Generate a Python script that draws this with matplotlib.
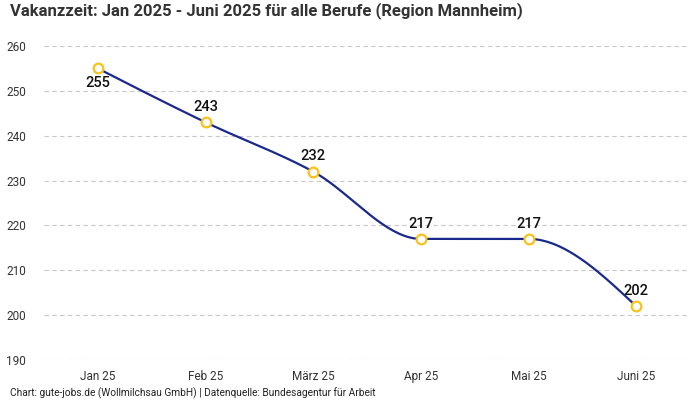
import numpy as np
import matplotlib
matplotlib.use("Agg")
import matplotlib.pyplot as plt

plt.rcParams['font.family'] = ['Roboto', 'DejaVu Sans']

months = ["Jan 25", "Feb 25", "März 25", "Apr 25", "Mai 25", "Juni 25"]
vakanz = [255, 243, 232, 217, 217, 202]
yticks = [190, 200, 210, 220, 230, 240, 250, 260]

LINE = "#1a2a8c"
MARK = "#f7c21b"


def monotone_curve(x, y, n=40):
    # monotone cubic (like d3 curveMonotoneX) for the smooth path
    x = np.asarray(x, float)
    y = np.asarray(y, float)
    h = np.diff(x)
    s = np.diff(y) / h
    m = np.zeros(len(x))
    for i in range(1, len(x) - 1):
        if s[i - 1] * s[i] <= 0:
            m[i] = 0
        else:
            m[i] = (np.sign(s[i - 1]) + np.sign(s[i])) * min(abs(s[i - 1]), abs(s[i]),
                                                             0.5 * abs((h[i - 1] * s[i] + h[i] * s[i - 1]) / (h[i - 1] + h[i])))
    # d3 end tangents
    m[0] = (3 * s[0] - m[1]) / 2
    m[-1] = (3 * s[-1] - m[-2]) / 2
    xs, ys = [], []
    for i in range(len(x) - 1):
        t = np.linspace(0, 1, n)
        h00 = 2 * t**3 - 3 * t**2 + 1
        h10 = t**3 - 2 * t**2 + t
        h01 = -2 * t**3 + 3 * t**2
        h11 = t**3 - t**2
        xs.append(x[i] + t * h[i])
        ys.append(h00 * y[i] + h10 * h[i] * m[i] + h01 * y[i + 1] + h11 * h[i] * m[i + 1])
    return np.concatenate(xs), np.concatenate(ys)


fig = plt.figure(figsize=(7, 4), dpi=100)
ax = fig.add_axes([44 / 700, 40 / 400, 646 / 700, 314 / 400])

pos = np.arange(len(months))
cx, cy = monotone_curve(pos, vakanz)
ax.plot(cx, cy, color=LINE, lw=1.6, zorder=2)
ax.plot(pos, vakanz, 'o', ms=7, mfc='white', mec=MARK, mew=1.6, zorder=3)

for i, v in enumerate(vakanz):
    if i == 0:
        ax.text(i, v - 3.3, str(v), ha='center', va='center', fontsize=10.5,
                fontweight='medium', color='#111111')
    else:
        ax.text(i, v + 3.4, str(v), ha='center', va='center', fontsize=10.5,
                fontweight='medium', color='#111111')

ax.set_xlim(-0.5, len(months) - 0.5)
ax.set_ylim(190, 260)
ax.set_yticks(yticks)
ax.set_xticks(pos)
ax.set_xticklabels(months)
for lab in ax.get_xticklabels():
    lab.set_verticalalignment('baseline')
ax.grid(axis='y', color='#c8c8c8', linestyle=(0, (4, 3)), lw=0.8)
ax.set_axisbelow(True)
for sp in ax.spines.values():
    sp.set_visible(False)
ax.tick_params(length=0, labelsize=8.5, colors='#333333')
ax.tick_params(axis='x', pad=14.5)
ax.tick_params(axis='y', pad=13)

fig.text(10 / 700, 1 - 11 / 400, "Vakanzzeit: Jan 2025 - Juni 2025 für alle Berufe (Region Mannheim)",
         fontsize=12, fontweight='bold', color='#333333', va='center', ha='left')
fig.text(10 / 700, 1 - 393 / 400, "Chart: gute-jobs.de (Wollmilchsau GmbH) | Datenquelle: Bundesagentur für Arbeit",
         fontsize=7.3, color='#222222', va='center', ha='left')

fig.savefig("out.png", dpi=100)
